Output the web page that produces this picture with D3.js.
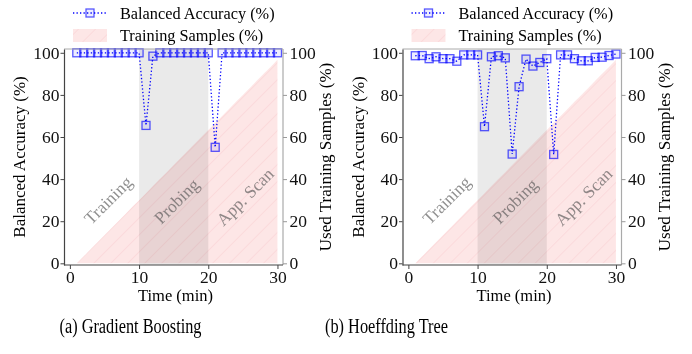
<!DOCTYPE html>
<html>
<head>
<meta charset="utf-8">
<script src="https://cdn.jsdelivr.net/npm/d3@7"></script>
<style>
  body { margin: 0; background: #fff; }
  svg { display: block; }
  svg text { font-family: 'Liberation Serif', 'Times New Roman', serif; }
</style>
</head>
<body>
<div id="chart"></div>
<script>
// ---- data ----
const minutes = [1, 2, 3, 4, 5, 6, 7, 8, 9, 10, 11, 12, 13, 14, 15,
                 16, 17, 18, 19, 20, 21, 22, 23, 24, 25, 26, 27, 28, 29, 30];

// (a) Gradient Boosting
const gbAccuracy = [100, 100, 100, 100, 100, 100, 100, 100, 100, 100,
                    65.5, 98.4, 100, 100, 100, 100, 100, 100, 100, 100,
                    55.1, 100, 100, 100, 100, 100, 100, 100, 100, 100];

// (b) Hoeffding Tree
const htAccuracy = [98.6, 98.7, 97.2, 98.1, 97.2, 97.2, 96.0, 99.0, 99.0, 99.0,
                    64.9, 98.1, 98.6, 97.6, 51.9, 83.9, 97.0, 93.7, 95.4, 97.2,
                    51.7, 99.0, 99.0, 97.2, 96.2, 96.2, 97.8, 97.9, 98.7, 99.4];

// used training samples (%), same for both models
const trainingSamples = [0, 3.3, 6.7, 10, 13.3, 16.7, 20, 23.3, 26.7, 30,
                         33.3, 36.7, 40, 43.3, 46.7, 50, 53.3, 56.7, 60, 63.3,
                         66.7, 70, 73.3, 76.7, 80, 83.3, 86.7, 90, 93.3, 96.7];

const probingSpan = [10, 20];
const phaseNames = ["Training", "Probing", "App. Scan"];
const phaseAt = [[5.5, 30], [15.4, 29.6], [25.3, 31.7]];   // data coords of the rotated labels

const xTicks = [0, 10, 20, 30];
const yTicks = [0, 20, 40, 60, 80, 100];

const captions = ["(a) Gradient Boosting", "(b) Hoeffding Tree"];

// ---- chart settings ----
const width = 692, height = 354;
const plotTop = 49, plotBottom = 265;
const serif = "Liberation Serif";

const svg = d3.select("#chart").append("svg")
    .attr("width", width)
    .attr("height", height)
    .attr("font-family", serif);

const defs = svg.append("defs");
const hatch = defs.append("pattern")
    .attr("id", "hatch")
    .attr("patternUnits", "userSpaceOnUse")
    .attr("width", 12).attr("height", 12)
    .attr("patternTransform", "rotate(45)");
hatch.append("rect").attr("width", 12).attr("height", 12).attr("fill", "#fde2e2");
hatch.append("line")
    .attr("x1", 0).attr("y1", 0).attr("x2", 0).attr("y2", 12)
    .attr("stroke", "#f7c4c8").attr("stroke-width", 1);

const panels = [
  { left: 64, right: 283, acc: gbAccuracy, caption: captions[0], captionX: 130.5, captionW: 142 },
  { left: 402.5, right: 621.5, acc: htAccuracy, caption: captions[1], captionX: 386.5, captionW: 123 },
];

panels.forEach(drawPanel);

function drawPanel(p) {
  const x = d3.scaleLinear().domain([-0.85, 30.8]).range([p.left, p.right]);
  const y = d3.scaleLinear().domain([-0.8, 101.8]).range([plotBottom, plotTop]);
  const g = svg.append("g");

  // probing period
  g.append("rect")
      .attr("x", x(probingSpan[0]))
      .attr("y", plotTop)
      .attr("width", x(probingSpan[1]) - x(probingSpan[0]))
      .attr("height", plotBottom - plotTop)
      .attr("fill", "#8a8a8a")
      .attr("fill-opacity", 0.18);

  // training samples area (hatched)
  const area = d3.area()
      .x((d, i) => x(minutes[i]))
      .y0(y(0))
      .y1(d => y(d));
  g.append("path")
      .datum(trainingSamples)
      .attr("d", area)
      .attr("fill", "url(#hatch)")
      .attr("fill-opacity", 0.85)
      .style("mix-blend-mode", "multiply");

  // phase labels
  g.selectAll("text.phase")
      .data(phaseNames)
      .join("text")
      .attr("class", "phase")
      .attr("transform", (d, i) => `translate(${x(phaseAt[i][0])},${y(phaseAt[i][1])}) rotate(-45)`)
      .attr("text-anchor", "middle")
      .attr("dy", "0.35em")
      .attr("font-size", 17.5)
      .attr("fill", "#555")
      .attr("fill-opacity", 0.65)
      .text(d => d);

  // accuracy line
  const line = d3.line()
      .x((d, i) => x(minutes[i]))
      .y(d => y(d));
  g.append("path")
      .datum(p.acc)
      .attr("d", line)
      .attr("fill", "none")
      .attr("stroke", "#0000ff")
      .attr("stroke-width", 1.3)
      .attr("stroke-dasharray", "1.3 2.2");

  g.selectAll("rect.marker")
      .data(p.acc)
      .join("rect")
      .attr("class", "marker")
      .attr("x", (d, i) => x(minutes[i]) - 4)
      .attr("y", d => y(d) - 4)
      .attr("width", 8).attr("height", 8)
      .attr("fill", "#0000ff").attr("fill-opacity", 0.07)
      .attr("stroke", "#0000ff").attr("stroke-opacity", 0.65)
      .attr("stroke-width", 1.3);

  // frame
  g.append("line").attr("x1", p.left).attr("x2", p.right).attr("y1", plotTop).attr("y2", plotTop)
      .attr("stroke", "#aaa").attr("stroke-width", 1);
  g.append("line").attr("x1", p.right).attr("x2", p.right).attr("y1", plotTop).attr("y2", plotBottom)
      .attr("stroke", "#aaa").attr("stroke-width", 1.2);

  // axes
  const xAxis = g.append("g")
      .attr("transform", `translate(0,${plotBottom})`)
      .call(d3.axisBottom(x).tickValues(xTicks).tickSize(4).tickPadding(2).tickSizeOuter(0));
  const yAxis = g.append("g")
      .attr("transform", `translate(${p.left},0)`)
      .call(d3.axisLeft(y).tickValues(yTicks).tickSize(3.5).tickPadding(1).tickSizeOuter(0));
  const yAxisR = g.append("g")
      .attr("transform", `translate(${p.right},0)`)
      .call(d3.axisRight(y).tickValues(yTicks).tickSize(4).tickPadding(2.5).tickSizeOuter(0));

  [xAxis, yAxis, yAxisR].forEach(a => {
    a.attr("font-family", serif).attr("font-size", 17.5);
    a.selectAll("text").attr("fill", "#111");
  });
  xAxis.select(".domain").attr("stroke", "#444").attr("stroke-width", 1.2)
      .attr("d", `M${p.left},0H${p.right}`);
  xAxis.selectAll(".tick line").attr("stroke", "#444");
  yAxis.select(".domain").attr("stroke", "#444").attr("stroke-width", 1.2);
  yAxis.selectAll(".tick line").attr("stroke", "#444");
  yAxisR.select(".domain").remove();
  yAxisR.selectAll(".tick line").attr("stroke", "#999");

  // axis titles
  g.append("text")
      .attr("x", (p.left + p.right) / 2 + 2)
      .attr("y", 301)
      .attr("text-anchor", "middle")
      .attr("font-size", 16.5)
      .text("Time (min)");
  g.append("text")
      .attr("transform", `translate(${p.left - 39},${(plotTop + plotBottom) / 2}) rotate(-90)`)
      .attr("text-anchor", "middle")
      .attr("font-size", 17)
      .text("Balanced Accuracy (%)");
  g.append("text")
      .attr("transform", `translate(${p.right + 48},${(plotTop + plotBottom) / 2}) rotate(-90)`)
      .attr("text-anchor", "middle")
      .attr("font-size", 17)
      .text("Used Training Samples (%)");

  // legend
  const lg = g.append("g").attr("transform", `translate(${p.left + 9},0)`);
  lg.append("line")
      .attr("x1", 0).attr("x2", 34).attr("y1", 13).attr("y2", 13)
      .attr("stroke", "#0000ff").attr("stroke-width", 1.3)
      .attr("stroke-dasharray", "1.3 2.2");
  lg.append("rect")
      .attr("x", 13).attr("y", 9).attr("width", 8).attr("height", 8)
      .attr("fill", "#0000ff").attr("fill-opacity", 0.07)
      .attr("stroke", "#0000ff").attr("stroke-opacity", 0.65).attr("stroke-width", 1.3);
  lg.append("text").attr("x", 47).attr("y", 19).attr("font-size", 16.3)
      .text("Balanced Accuracy (%)");
  lg.append("rect")
      .attr("x", 0).attr("y", 29).attr("width", 34).attr("height", 13)
      .attr("fill", "url(#hatch)").attr("fill-opacity", 0.85);
  lg.append("text").attr("x", 47).attr("y", 41).attr("font-size", 16.3)
      .text("Training Samples (%)");

  // caption
  g.append("text")
      .attr("x", p.captionX)
      .attr("y", 333)
      .attr("text-anchor", "middle")
      .attr("font-size", 20)
      .attr("textLength", p.captionW)
      .attr("lengthAdjust", "spacingAndGlyphs")
      .text(p.caption);
}
</script>
</body>
</html>
